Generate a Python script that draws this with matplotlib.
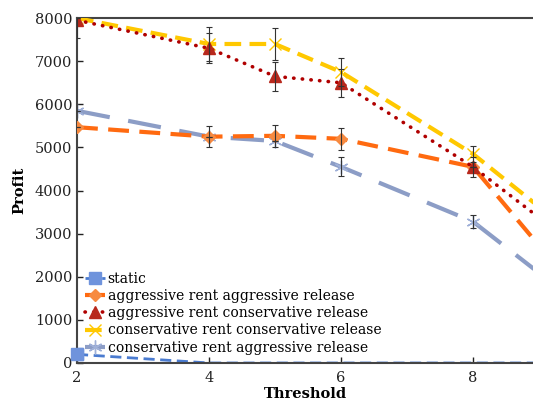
import matplotlib.pyplot as plt

plt.rcParams['font.family'] = ['DejaVu Serif']

thresholds = [2, 4, 5, 6, 8, 10]

static = [200, 0, 0, 0, 0, 0]
agg_agg = [5470, 5250, 5270, 5200, 4550, 900]
agg_con = [7950, 7300, 6650, 6500, 4550, 2200]
con_con = [8000, 7400, 7400, 6750, 4850, 2400]
con_agg = [5850, 5250, 5150, 4550, 3280, 900]

agg_agg_err = [0, 250, 250, 250, 0, 0]
agg_con_err = [400, 350, 330, 330, 230, 0]
con_con_err = [0, 400, 380, 330, 180, 0]
con_agg_err = [0, 0, 0, 220, 150, 0]

fig = plt.figure(figsize=(5.33, 4.12), dpi=100)
ax = fig.add_axes([0.1445, 0.119, 0.8555, 0.837])

# static: only first point shows, rest sits under the x axis
ax.plot(thresholds, static, color='#4a7bd0', lw=2, dashes=(4, 2),
        marker='s', ms=8.5, mfc='#6f93dc', mec='#6f93dc', markevery=[0],
        label='static', zorder=1)
ax.plot(thresholds[:1], static[:1], ls='none', marker='s', ms=8.5,
        mfc='#6f93dc', mec='#6f93dc', clip_on=False, zorder=7)

ax.plot(thresholds, agg_agg, color='#ff6a10', lw=3, dashes=(5, 2.5),
        marker='D', ms=6.5, mfc='#f78a40', mec='#f78a40',
        label='aggressive rent aggressive release', zorder=3)
ax.plot(thresholds, agg_con, color='#b00000', lw=2.6, ls=(0, (0.1, 2.3)),
        dash_capstyle='round', marker='^', ms=8, mfc='#b8281c', mec='#b8281c',
        label='aggressive rent conservative release', zorder=5)
ax.plot(thresholds, con_con, color='#ffc800', lw=3, dashes=(4, 2),
        marker='x', ms=9, mew=1, mec='#ffc800',
        label='conservative rent conservative release', zorder=4)
ax.plot(thresholds, con_agg, color='#8c9dc6', lw=3, dashes=(8, 4.5),
        marker=(6, 2, 0), ms=10, mew=1, mec='#9fb0d8',
        label='conservative rent aggressive release', zorder=2)

# error bars
for vals, errs in [(agg_agg, agg_agg_err), (agg_con, agg_con_err),
                   (con_con, con_con_err), (con_agg, con_agg_err)]:
    ax.errorbar(thresholds, vals, yerr=errs, fmt='none', ecolor='#333333',
                elinewidth=0.8, capsize=2, capthick=0.8, zorder=6)

ax.set_xlim(2, 8.91)
ax.set_ylim(0, 8000)
ax.set_xticks([2, 4, 6, 8])
ax.set_yticks(range(0, 8001, 1000))
ax.tick_params(direction='in', length=4, width=1, labelsize=10.5, colors='#222222')
ax.tick_params(axis='x', pad=6)
for side in ['left', 'bottom', 'top']:
    ax.spines[side].set_linewidth(1.5)
    ax.spines[side].set_color('#444444')
ax.spines['right'].set_visible(False)

ax.set_xlabel('Threshold', fontweight='bold', fontsize=10.5, labelpad=1)
ax.set_ylabel('Profit', fontweight='bold', fontsize=10.5, labelpad=6)

ax.legend(loc='lower left', bbox_to_anchor=(0.0, 0.0), frameon=False,
          fontsize=10, handlelength=1.4, handletextpad=0.2,
          labelspacing=0.23, borderaxespad=0.2)

fig.savefig('out.png', dpi=100)
